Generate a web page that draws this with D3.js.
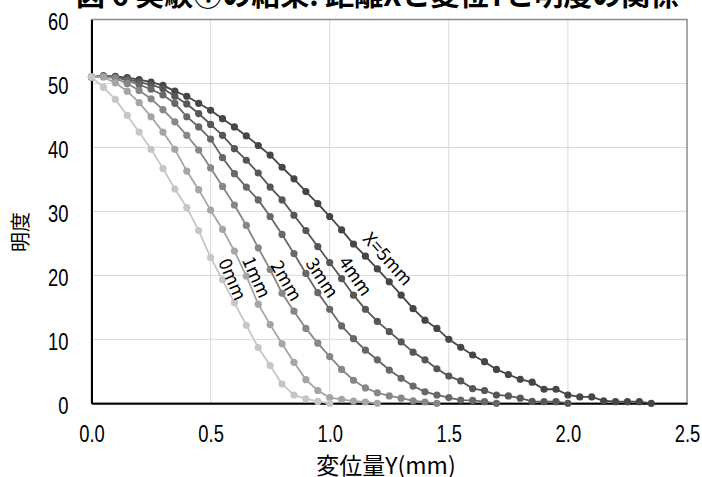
<!DOCTYPE html>
<meta charset="utf-8">
<style>
body { margin: 0; background: #fff; }
text { font-family: "Noto Sans CJK JP", "Noto Sans", sans-serif; fill: #000; }
.grid line { stroke: #d9d9d9; stroke-width: 1px; }
.series path { fill: none; stroke-width: 1.8px; }
.tick text { font-family: "Liberation Sans", Arial, sans-serif; font-size: 23px; }
</style>
<svg width="702" height="477"></svg>
<script src="https://d3js.org/d3.v7.min.js"></script>
<script>

// displacement Y (mm), every measured position
var disp = [0.00, 0.05, 0.10, 0.15, 0.20, 0.25, 0.30, 0.35, 0.40, 0.45,
            0.50, 0.55, 0.60, 0.65, 0.70, 0.75, 0.80, 0.85, 0.90, 0.95,
            1.00, 1.05, 1.10, 1.15, 1.20, 1.25, 1.30, 1.35, 1.40, 1.45,
            1.50, 1.55, 1.60, 1.65, 1.70, 1.75, 1.80, 1.85, 1.90, 1.95,
            2.00, 2.05, 2.10, 2.15, 2.20, 2.25, 2.30, 2.35];

// brightness for each distance X
var b0 = [51.0, 49.4, 47.5, 45.0, 42.4, 39.7, 36.7, 33.5, 30.6, 27.0,
          22.8, 19.3, 15.7, 12.2, 8.7, 5.9, 3.0, 1.3, 0.7, 0.3, 0.0];
var b1 = [51.0, 51.0, 50.1, 48.8, 47.0, 44.8, 42.4, 39.7, 36.3, 33.4,
          30.2, 27.2, 23.8, 19.9, 15.5, 12.3, 9.3, 6.4, 3.7, 2.0,
          0.9, 0.6, 0.35, 0.2, 0.0];
var b2 = [51.0, 51.1, 50.8, 50.0, 48.9, 47.6, 45.9, 44.0, 41.9, 39.6,
          36.8, 33.9, 31.0, 27.8, 24.3, 20.9, 17.2, 14.4, 11.7, 9.4,
          7.3, 5.3, 3.6, 2.4, 1.65, 1.15, 0.8, 0.4, 0.2, 0.0];
var b3 = [51.0, 51.1, 51.0, 50.5, 49.8, 49.1, 48.2, 46.9, 44.8, 43.2,
          41.3, 38.4, 35.9, 33.8, 31.8, 29.2, 26.4, 23.4, 20.3, 17.3,
          14.7, 12.1, 10.1, 8.3, 6.8, 5.2, 3.9, 2.7, 1.8, 1.3,
          0.9, 0.5, 0.45, 0.25, 0.0];
var b4 = [51.0, 51.2, 51.0, 50.7, 50.2, 49.8, 49.2, 48.0, 46.8, 45.3,
          43.6, 41.9, 39.8, 38.0, 36.0, 33.8, 31.8, 29.4, 27.0, 24.5,
          22.0, 19.5, 16.9, 14.7, 12.8, 11.2, 9.6, 8.0, 6.8, 5.4,
          4.25, 3.5, 2.3, 2.0, 1.3, 1.15, 0.8, 0.3, 0.25, 0.25, 0.0];
var b5 = [51.0, 51.2, 51.1, 50.9, 50.6, 50.2, 49.7, 48.8, 48.0, 46.9,
          45.8, 44.5, 43.2, 41.8, 40.3, 38.8, 36.9, 35.1, 33.1, 31.2,
          29.2, 27.1, 24.9, 23.0, 21.0, 19.0, 16.9, 14.8, 13.0, 11.7,
          10.0, 8.75, 7.55, 6.5, 5.3, 4.5, 3.75, 3.3, 2.2, 2.2,
          1.3, 1.0, 1.0, 0.4, 0.25, 0.25, 0.25, 0.0];

var seriesNames = ["0mm", "1mm", "2mm", "3mm", "4mm", "X=5mm"];
var seriesValues = [b0, b1, b2, b3, b4, b5];
var seriesColors = ["#c6c6c6", "#a5a5a5", "#878787", "#686868", "#575757", "#464646"];

var xTicks = [0, 0.5, 1.0, 1.5, 2.0, 2.5];
var yTicks = [0, 10, 20, 30, 40, 50, 60];

// where each curve label sits (data coords) and its tilt
var labelX = [0.531, 0.631, 0.749, 0.896, 1.034, 1.135];
var labelY = [22.1, 22.4, 21.6, 21.9, 22.1, 25.6];
var labelAngle = [67, 66, 60, 57, 55, 48];

var svg = d3.select("svg");

var x = d3.scaleLinear().domain([0, 2.5]).range([91.5, 687]);
var y = d3.scaleLinear().domain([0, 60]).range([403.3, 19.5]);

// title, cut off by the top edge like the source
svg.append("text")
    .attr("x", 76)
    .attr("y", 6)
    .style("font-size", "29px")
    .style("font-weight", "bold")
    .text("図 6  実験①の結果: 距離Xと変位Yと明度の関係");

// gridlines
var grid = svg.append("g").attr("class", "grid");
grid.selectAll(".gx")
    .data(xTicks.slice(1, -1))
    .enter().append("line")
      .attr("x1", function(d) { return x(d); })
      .attr("x2", function(d) { return x(d); })
      .attr("y1", y(60))
      .attr("y2", y(0));
grid.selectAll(".gy")
    .data(yTicks.slice(1, -1))
    .enter().append("line")
      .attr("x1", x(0))
      .attr("x2", x(2.5))
      .attr("y1", function(d) { return y(d); })
      .attr("y2", function(d) { return y(d); });

// frame: grey top/right, black axes
svg.append("rect")
    .attr("x", x(0)).attr("y", y(60))
    .attr("width", x(2.5) - x(0)).attr("height", y(0) - y(60))
    .attr("fill", "none").attr("stroke", "#8c8c8c").attr("stroke-width", 1.5);

// narrow digits like the source
var squeeze = 0.8;

var xAxis = svg.append("g")
    .attr("transform", "translate(0," + y(0) + ")")
    .call(d3.axisBottom(x).tickValues(xTicks).tickSize(0).tickPadding(22)
      .tickFormat(d3.format(".1f")));
xAxis.select(".domain").attr("stroke", "#000").attr("stroke-width", 2);
xAxis.selectAll(".tick text").attr("transform", "scale(" + squeeze + ",1)");

var yAxis = svg.append("g")
    .attr("transform", "translate(" + x(0) + ",0)")
    .call(d3.axisLeft(y).tickValues(yTicks).tickSize(0));
yAxis.select(".domain").attr("stroke", "#000").attr("stroke-width", 2);
yAxis.selectAll(".tick text")
    .attr("x", -23 / squeeze)
    .attr("dy", "0.45em")
    .attr("transform", "scale(" + squeeze + ",1)");

// axis titles
svg.append("text")
    .attr("x", 386)
    .attr("y", 474)
    .attr("text-anchor", "middle")
    .style("font-size", "23px")
    .text("変位量Y(mm)");

svg.append("text")
    .attr("transform", "translate(28,232) rotate(-90)")
    .attr("text-anchor", "middle")
    .style("font-size", "20px")
    .text("明度");

// series, darkest first so the light curves sit on top
var line = d3.line()
    .x(function(d) { return x(d[0]); })
    .y(function(d) { return y(d[1]); });

var order = [5, 4, 3, 2, 1, 0];
var series = svg.append("g").attr("class", "series")
  .selectAll("g")
  .data(order)
  .enter().append("g");

series.append("path")
    .attr("stroke", function(i) { return seriesColors[i]; })
    .attr("d", function(i) {
      return line(seriesValues[i].map(function(v, k) { return [disp[k], v]; }));
    });

series.selectAll("circle")
    .data(function(i) {
      return seriesValues[i].map(function(v, k) { return { x: disp[k], y: v, c: seriesColors[i] }; });
    })
    .enter().append("circle")
      .attr("cx", function(d) { return x(d.x); })
      .attr("cy", function(d) { return y(d.y); })
      .attr("r", 3.6)
      .attr("fill", function(d) { return d.c; });

// tilted curve labels
svg.append("g")
  .selectAll("text")
  .data(seriesNames)
  .enter().append("text")
    .attr("transform", function(d, i) {
      return "translate(" + x(labelX[i]) + "," + y(labelY[i]) + ") rotate(" + labelAngle[i] + ")";
    })
    .style("font-size", "18px")
    .text(function(d) { return d; });

</script>
